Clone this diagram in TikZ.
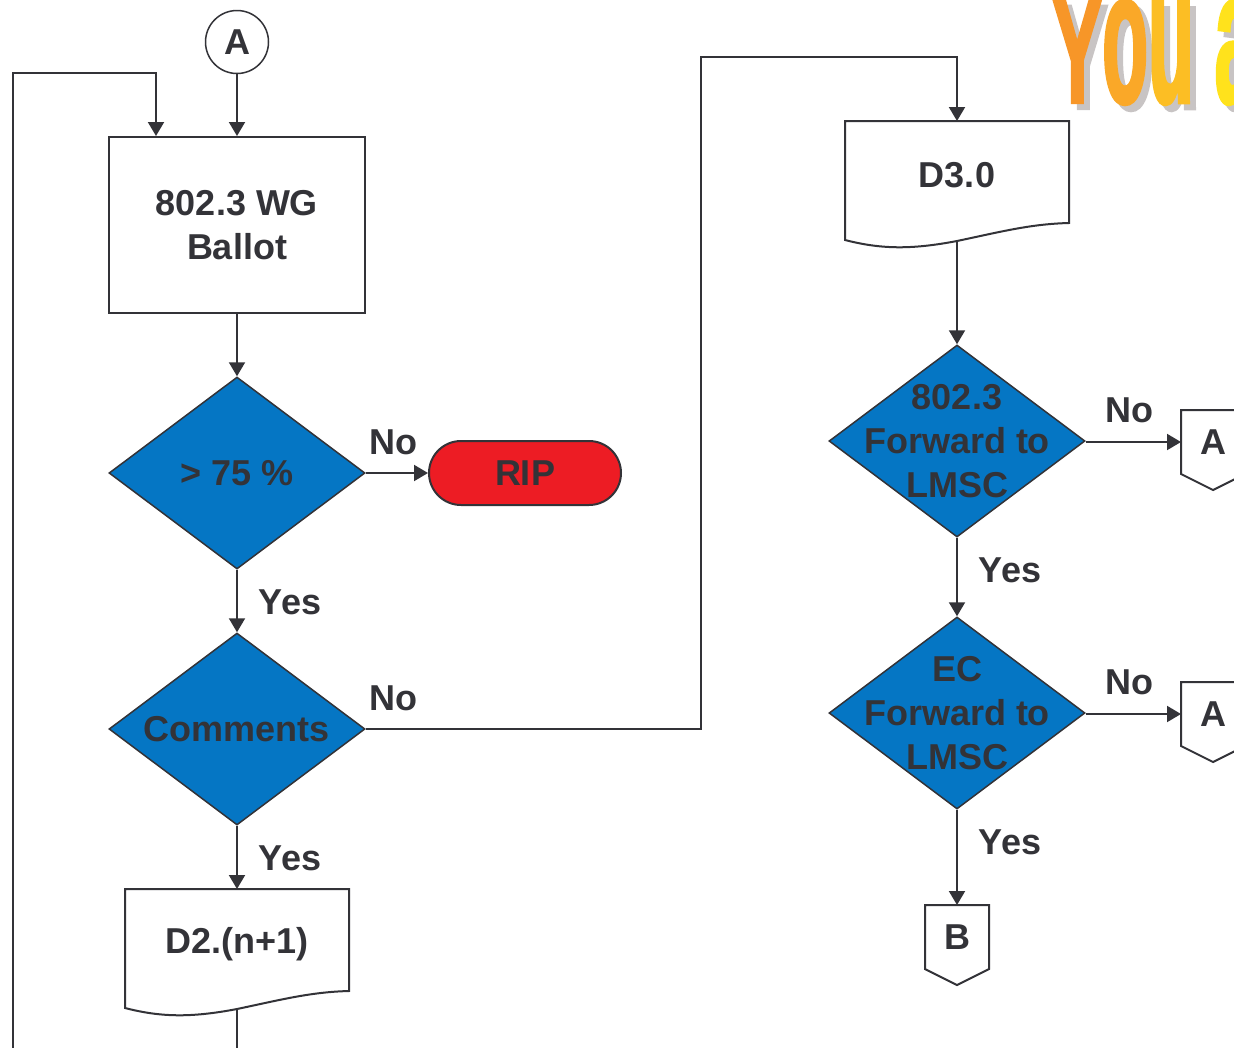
\documentclass[tikz,border=0pt]{standalone}
\usepackage{graphicx}
\usepackage{fontspec}
\setmainfont{Liberation Sans}
\newfontfamily\wordartfont{Liberation Sans}[FakeStretch=0.5, FakeBold=1.5]
\usetikzlibrary{shapes.geometric, arrows.meta, calc}
\definecolor{ink}{RGB}{51,51,56}
\definecolor{dblue}{RGB}{5,118,196}
\definecolor{ripred}{RGB}{237,28,36}
\definecolor{waA}{RGB}{247,150,40}
\definecolor{waB}{RGB}{250,168,40}
\definecolor{waC}{RGB}{252,190,36}
\definecolor{waD}{RGB}{255,226,28}
\definecolor{wash}{RGB}{200,196,196}
\newcommand\youaword[4]{{\color{#1}Y}\scalebox{1}[1.28]{\color{#2}o}\scalebox{1}[1.28]{\color{#3}u} \scalebox{1}[1.28]{\color{#4}a}}
\newcommand\docoutline[2]{%
  \draw[flow, fill=white] ({#1-112},{#2}) -- ({#1+112},{#2}) -- ({#1+112},{#2+102})
    .. controls ({#1+73},{#2+103}) and ({#1+43},{#2+111}) .. ({#1},{#2+120})
    .. controls ({#1-47},{#2+129}) and ({#1-77},{#2+128}) .. ({#1-112},{#2+119}) -- cycle;}
\newcommand\offpageoutline[1]{%
  \draw[flow] (#1.north west) -- (#1.north east) -- (#1.south east)
    -- ($(#1.south)+(0,16)$) -- (#1.south west) -- cycle;}
\begin{document}
\begin{tikzpicture}[x=1pt, y=-1pt,
  every node/.style={text=ink, font=\fontsize{36}{44}\selectfont\bfseries},
  flow/.style={draw=ink, line width=2pt},
  arr/.style={flow, -{Triangle[length=14pt, width=16pt]}},
  procbox/.style={draw=ink, line width=2pt, fill=white, minimum width=256pt,
    minimum height=176pt, inner sep=0pt, align=center},
  decision/.style={diamond, draw=ink, line width=1.5pt, fill=dblue,
    minimum width=256pt, minimum height=192pt, inner sep=0pt},
  dtext/.style={align=center, inner sep=0pt},
  terminal/.style={draw=ink, line width=2pt, fill=ripred, rounded corners=32pt,
    minimum width=192pt, minimum height=64pt, inner sep=0pt},
  connector/.style={circle, draw=ink, line width=1.5pt, fill=white,
    minimum size=63pt, inner sep=0pt},
  offpage/.style={rectangle, minimum width=64pt, minimum height=64pt,
    inner sep=0pt, outer sep=0pt},
  lbl/.style={inner sep=0pt},
  wa/.style={anchor=base west, inner sep=0pt,
    font=\wordartfont\bfseries\fontsize{150}{150}\selectfont}]
\useasboundingbox (0,0) rectangle (1234,1047);
\clip (0,0) rectangle (1234,1047);

% WordArt title (cropped by the frame)
\node[wa] (youshadow) at (1058,109) {\youaword{wash}{wash}{wash}{wash}};
\node[wa] (youa) at (1052,103) {\youaword{waA}{waB}{waC}{waD}};

% left column
\node[connector] (cA) at (237,42) {A};
\node[procbox] (box) at (237,225) {802.3 WG\\Ballot};
\node[decision] (dia1) at (237,473) {};
\node[dtext] (dia1t) at (237,473) {> 75 \%};
\node[terminal] (rip) at (525,473) {RIP};
\node[decision] (dia2) at (237,729) {};
\node[dtext] (dia2t) at (237,729) {Comments};
\docoutline{237}{889}
\node[lbl] (d2) at (237,944) {D2.(n+1)};
\coordinate (d2top) at (237,889);
\coordinate (d2bot) at (237,1009);

% right column
\docoutline{957}{121}
\node[lbl] (d3) at (957,175) {D3.0};
\coordinate (d3top) at (957,121);
\coordinate (d3bot) at (957,241);
\node[decision] (dia3) at (957,441) {};
\node[dtext] (dia3t) at (957,441) {802.3\\Forward to\\LMSC};
\node[decision] (dia4) at (957,713) {};
\node[dtext] (dia4t) at (957,713) {EC\\Forward to\\LMSC};
\node[offpage] (oa1) at (1213,442) {A};
\offpageoutline{oa1}
\node[offpage] (oa2) at (1213,714) {A};
\offpageoutline{oa2}
\node[offpage] (ob) at (957,937) {B};
\offpageoutline{ob}

% labels
\node[lbl] (no1) at (393,442) {No};
\node[lbl] (yes1) at (290,602) {Yes};
\node[lbl] (no2) at (393,698) {No};
\node[lbl] (yes2) at (290,858) {Yes};
\node[lbl] (no3) at (1129,410) {No};
\node[lbl] (yes3) at (1010,570) {Yes};
\node[lbl] (no4) at (1129,682) {No};
\node[lbl] (yes4) at (1010,842) {Yes};

% helper coordinates
\coordinate (boxin) at ($(box.north west)+(48,0)$);
\coordinate (loopb) at (237,1075);
\coordinate (loopc) at (13,73);
\coordinate (turn) at (701,57);

% connectors
\draw[arr] (cA.south) -- (box.north);
\draw[arr] (d2bot) -- (loopb) -| (loopc) -| (boxin);
\draw[arr] (box.south) -- (dia1.north);
\draw[arr] (dia1.east) -- (rip.west);
\draw[arr] (dia1.south) -- (dia2.north);
\draw[arr] (dia2.east) -| (turn) -| (d3top);
\draw[arr] (dia2.south) -- (d2top);
\draw[arr] (d3bot) -- (dia3.north);
\draw[arr] (dia3.east |- oa1.west) -- (oa1.west);
\draw[arr] (dia3.south) -- (dia4.north);
\draw[arr] (dia4.east |- oa2.west) -- (oa2.west);
\draw[arr] (dia4.south) -- (ob.north);
\end{tikzpicture}
\end{document}
